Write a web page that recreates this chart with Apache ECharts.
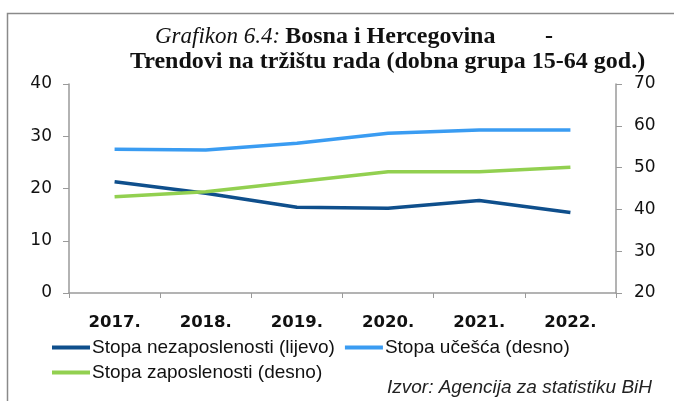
<!DOCTYPE html>
<html>
<head>
<meta charset="utf-8">
<script src="https://cdn.jsdelivr.net/npm/echarts@6/dist/echarts.min.js"></script>
<style>
  html, body { margin: 0; padding: 0; background: #fff; }
  #chart { width: 674px; height: 401px; }
</style>
</head>
<body>
<div id="chart"></div>
<script>
// data
const years = ["2017.", "2018.", "2019.", "2020.", "2021.", "2022."];
const nezaposlenost = [21.3, 19.1, 16.4, 16.2, 17.7, 15.4];   // left axis
const ucesce = [54.4, 54.2, 55.8, 58.2, 59.0, 59.0];          // right axis
const zaposlenost = [43.0, 44.2, 46.6, 49.0, 49.0, 50.1];      // right axis

const seriesNames = ["Stopa nezaposlenosti (lijevo)", "Stopa učešća (desno)", "Stopa zaposlenosti (desno)"];

const chart = echarts.init(document.getElementById("chart"));

const axisGray = "#9a9a9a";
const sans = "'Liberation Sans', Arial, sans-serif";
const serif = "'Liberation Serif', 'Times New Roman', serif";

const legendBase = {
  left: 52,
  itemWidth: 38,
  itemHeight: 4,
  itemGap: 10,
  padding: 0,
  icon: "rect",
  textStyle: { fontFamily: sans, fontSize: 19, color: "#111", padding: [0, 0, 0, -3] },
};

const option = {
  backgroundColor: "#fff",
  animation: false,
  title: [
    {
      text: "{i|Grafikon 6.4:} {b|Bosna i Hercegovina}",
      left: 155,
      top: 25,
      padding: 0,
      textStyle: {
        rich: {
          i: { fontFamily: serif, fontStyle: "italic", fontWeight: "normal", fontSize: 23, color: "#111" },
          b: { fontFamily: serif, fontWeight: "bold", fontSize: 24, color: "#111" },
        },
      },
    },
    {
      text: "-",
      left: 545,
      top: 25,
      padding: 0,
      textStyle: { fontFamily: serif, fontWeight: "bold", fontSize: 24, color: "#111" },
    },
    {
      text: "Trendovi na tržištu rada (dobna grupa 15-64 god.)",
      left: 130,
      top: 50,
      padding: 0,
      textStyle: { fontFamily: serif, fontWeight: "bold", fontSize: 24, color: "#111" },
    },
    {
      text: "Izvor: Agencija za statistiku BiH",
      right: 22,
      top: 378,
      padding: 0,
      textStyle: { fontFamily: sans, fontStyle: "italic", fontWeight: "normal", fontSize: 19, color: "#222" },
    },
  ],
  graphic: [
    {
      type: "rect",
      shape: { x: 7.5, y: 13.5, width: 700, height: 420 },
      style: { fill: "none", stroke: "#8a8a8a", lineWidth: 1.5 },
      silent: true,
      z: -1,
    },
  ],
  legend: [
    Object.assign({}, legendBase, { top: 338, data: [seriesNames[0], seriesNames[1]] }),
    Object.assign({}, legendBase, { top: 363, data: [seriesNames[2]] }),
  ],
  grid: { left: 69, right: 58, top: 84, bottom: 108 },
  xAxis: {
    type: "category",
    data: years,
    boundaryGap: true,
    axisLine: { lineStyle: { color: axisGray, width: 1.5 } },
    axisTick: { show: true, length: 5, lineStyle: { color: axisGray } },
    axisLabel: { fontFamily: "'DejaVu Sans', sans-serif", fontWeight: "bold", fontSize: 16.5, color: "#111", margin: 21 },
  },
  yAxis: [
    {
      type: "value",
      min: 0,
      max: 40,
      interval: 10,
      position: "left",
      axisLine: { show: true, lineStyle: { color: axisGray, width: 1.5 } },
      axisTick: { show: true, length: 6, lineStyle: { color: axisGray } },
      splitLine: { show: false },
      axisLabel: { fontFamily: "'DejaVu Sans', sans-serif", fontSize: 17, color: "#111", margin: 17 },
    },
    {
      type: "value",
      min: 20,
      max: 70,
      interval: 10,
      position: "right",
      axisLine: { show: true, lineStyle: { color: axisGray, width: 1.5 } },
      axisTick: { show: true, length: 6, lineStyle: { color: axisGray } },
      splitLine: { show: false },
      axisLabel: { fontFamily: "'DejaVu Sans', sans-serif", fontSize: 17, color: "#111", margin: 18 },
    },
  ],
  series: [
    {
      name: seriesNames[0],
      type: "line",
      yAxisIndex: 0,
      data: nezaposlenost,
      symbol: "none",
      lineStyle: { color: "#0f4f8c", width: 3.5 },
      itemStyle: { color: "#0f4f8c" },
    },
    {
      name: seriesNames[1],
      type: "line",
      yAxisIndex: 1,
      data: ucesce,
      symbol: "none",
      lineStyle: { color: "#3a9cf2", width: 3.5 },
      itemStyle: { color: "#3a9cf2" },
    },
    {
      name: seriesNames[2],
      type: "line",
      yAxisIndex: 1,
      data: zaposlenost,
      symbol: "none",
      lineStyle: { color: "#92d050", width: 3.5 },
      itemStyle: { color: "#92d050" },
    },
  ],
};

chart.setOption(option);
</script>
</body>
</html>
